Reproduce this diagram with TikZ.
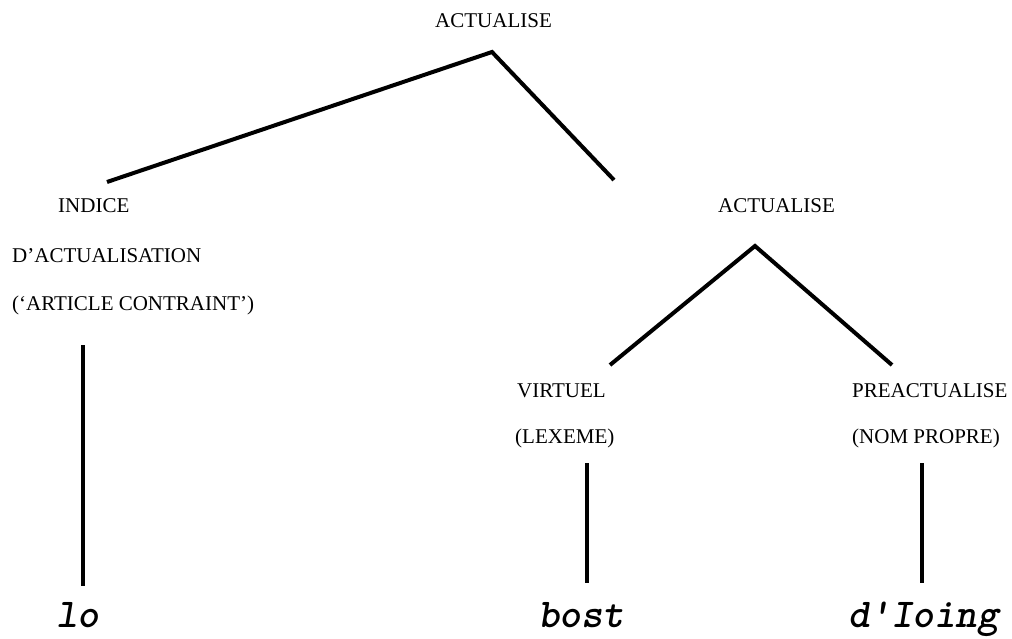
\documentclass[tikz,border=0pt]{standalone}
\usepackage{fontspec}
\setmainfont{Liberation Serif}
\setmonofont{lmmonolt10-boldoblique.otf}
\tikzset{
  cat/.style={anchor=base west, inner sep=0pt, font=\fontsize{21}{24}\selectfont},
  word/.style={anchor=base west, inner sep=0pt, font=\fontsize{41}{44}\ttfamily},
  branch/.style={line width=4pt},
}
\begin{document}
\begin{tikzpicture}[x=1pt,y=-1pt]
\useasboundingbox (0,0) rectangle (1012,639);

% category labels
\node[cat] (root)  at (435,28)  {ACTUALISE};
\node[cat] (ind1)  at (58,213)  {INDICE};
\node[cat] (ind2)  at (12,262)  {D’ACTUALISATION};
\node[cat] (ind3)  at (12,310)  {(‘ARTICLE CONTRAINT’)};
\node[cat] (act)   at (718,213) {ACTUALISE};
\node[cat] (virt1) at (517,397) {VIRTUEL};
\node[cat] (virt2) at (515,443) {(LEXEME)};
\node[cat] (pre1)  at (852,397) {PREACTUALISE};
\node[cat] (pre2)  at (852,443) {(NOM PROPRE)};

% words
\node[word] (lo)    at (56,627)  {lo};
\node[word] (bost)  at (538,627) {bost};
\node[word] (dioing) at (848,627) {d'Ioing};

% branch end points
\coordinate (rootA) at (492,52);
\coordinate (indT)  at (107,182);
\coordinate (actT)  at (614,180);
\coordinate (actA)  at (755,246);
\coordinate (virtT) at (610,365);
\coordinate (preT)  at (892,365);
\coordinate (loT)   at (83,345);
\coordinate (loB)   at (83,586);
\coordinate (bostT) at (587,463);
\coordinate (bostB) at (587,583);
\coordinate (dT)    at (922,463);
\coordinate (dB)    at (922,583);

\draw[branch] (indT) -- (rootA) -- (actT);
\draw[branch] (virtT) -- (actA) -- (preT);
\draw[branch] (loT) -- (loB);
\draw[branch] (bostT) -- (bostB);
\draw[branch] (dT) -- (dB);
\end{tikzpicture}
\end{document}
